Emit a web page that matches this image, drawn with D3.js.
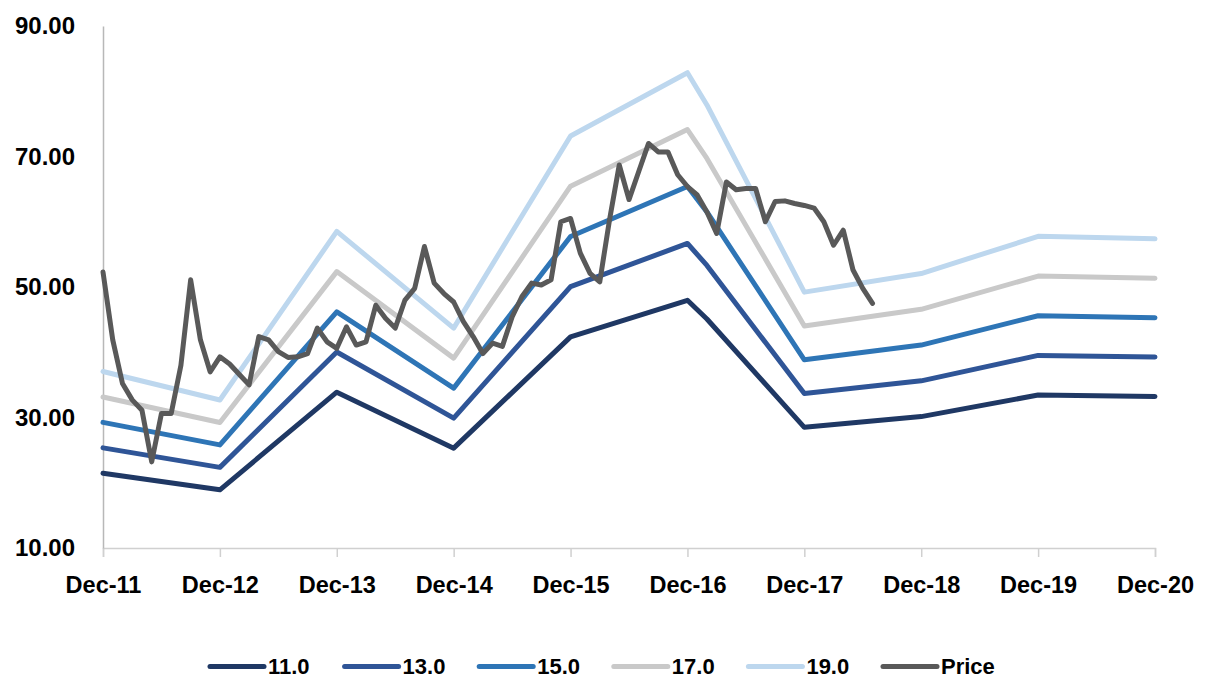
<!DOCTYPE html>
<html><head><meta charset="utf-8">
<script src="https://cdn.jsdelivr.net/npm/d3@7"></script>
<style>html,body{margin:0;padding:0;background:#fff;}svg{display:block;font-family:"Liberation Sans",Arial,sans-serif;font-weight:bold;}</style>
</head><body>
<svg id="c" width="1206" height="678"></svg>
<script>
// ---- data ----
const xTickLabels = ["Dec-11","Dec-12","Dec-13","Dec-14","Dec-15","Dec-16","Dec-17","Dec-18","Dec-19","Dec-20"];
const yTicks = [10, 30, 50, 70, 90];
const multiples = [11, 13, 15, 17, 19];
const seriesNames = ["11.0","13.0","15.0","17.0","19.0","Price"];
// EPS anchor points (month index from Dec-11, EPS)
const epsMonths = [0, 12, 24, 36, 48, 60, 62, 72, 84, 96, 108];
const epsValues = [1.95, 1.72, 3.08, 2.30, 3.85, 4.36, 4.10, 2.59, 2.74, 3.04, 3.02];
// Monthly price from Dec-11 to Jul-18
const price = [
  52.3, 41.9, 35.2, 32.7, 31.1, 23.2, 30.6, 30.6, 38.0, 51.1, 41.9, 37.0,
  39.3, 38.2, 36.6, 35.0, 42.4, 41.9, 40.1, 39.2, 39.3, 39.8, 43.7, 41.6,
  40.6, 43.9, 41.1, 41.6, 47.2, 45.2, 43.7, 48.0, 49.8, 56.2, 50.6, 49.0,
  47.7, 44.7, 42.4, 39.8, 41.4, 40.9, 45.4, 48.5, 50.6, 50.3, 51.1, 60.0,
  60.5, 55.2, 52.1, 50.8, 60.3, 68.7, 63.4, 67.7, 72.0, 70.7, 70.7, 67.2,
  65.4, 64.1, 61.5, 58.2, 66.1, 64.9, 65.1, 65.1, 60.0, 63.1, 63.2, 62.8,
  62.5, 62.1, 60.0, 56.4, 58.7, 52.6, 49.8, 47.5
];
const colors = ["#1f3864", "#2f5597", "#2e75b6", "#c9c9c9", "#bdd7ee", "#595959"];

// ---- chart ----
const svg = d3.select("#c");
const x = d3.scaleLinear().domain([0, 108]).range([103, 1155]);
const y = d3.scaleLinear().domain([10, 90]).range([548, 26]);

// axes
const xAxis = d3.axisBottom(x)
  .tickValues(d3.range(0, 109, 12))
  .tickFormat((d, i) => xTickLabels[i])
  .tickSize(9).tickPadding(19);
const gx = svg.append("g").attr("transform", `translate(0,${y(10)})`).call(xAxis);
gx.select(".domain").attr("stroke", "#d0d0d0").attr("stroke-width", 1.5);
gx.selectAll(".tick line").attr("stroke", "#d0d0d0").attr("stroke-width", 1.5);
gx.selectAll(".tick text").attr("font-size", 23.5).attr("font-weight", "bold")
  .attr("font-family", '"Liberation Sans",Arial,sans-serif').attr("fill", "#000");

const yAxis = d3.axisLeft(y).tickValues(yTicks).tickFormat(d3.format(".2f")).tickSize(0).tickPadding(28);
const gy = svg.append("g").attr("transform", `translate(${x(0)},0)`).call(yAxis);
gy.select(".domain").attr("stroke", "#b8b8b8").attr("stroke-width", 1.5);
gy.selectAll(".tick text").attr("font-size", 24).attr("font-weight", "bold")
  .attr("font-family", '"Liberation Sans",Arial,sans-serif').attr("fill", "#000");

const line = d3.line().x(d => x(d[0])).y(d => y(d[1]));

// band lines
multiples.forEach((m, i) => {
  const pts = epsMonths.map((mo, j) => [mo, epsValues[j] * m]);
  svg.append("path").datum(pts).attr("d", line)
    .attr("fill", "none").attr("stroke", colors[i]).attr("stroke-width", 5)
    .attr("stroke-linejoin", "round").attr("stroke-linecap", "round");
});

// price line
svg.append("path").datum(price.map((v, i) => [i, v])).attr("d", line)
  .attr("fill", "none").attr("stroke", colors[5]).attr("stroke-width", 5)
  .attr("stroke-linejoin", "round").attr("stroke-linecap", "round");

// legend
const lg = svg.append("g");
const legX0 = 210, legStep = 134.6, legY = 666.5;
seriesNames.forEach((name, i) => {
  const lx = legX0 + i * legStep;
  lg.append("line").attr("x1", lx).attr("x2", lx + 54).attr("y1", legY).attr("y2", legY)
    .attr("stroke", colors[i]).attr("stroke-width", 5).attr("stroke-linecap", "round");
  lg.append("text").attr("x", lx + 58).attr("y", 673.5)
    .attr("font-size", 22).attr("font-weight", "bold").attr("fill", "#000").text(name);
});
</script>
</body></html>
